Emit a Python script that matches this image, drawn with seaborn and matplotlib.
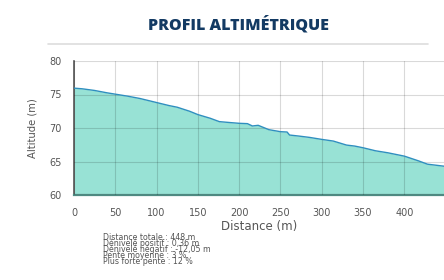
import matplotlib
matplotlib.use("Agg")
import matplotlib.pyplot as plt
import seaborn as sns
import pandas as pd

distance = [0, 10, 25, 40, 50, 65, 80, 100, 115, 125, 140, 150, 165, 176, 190, 200,
            210, 216, 223, 236, 250, 258, 261, 272, 285, 300, 314, 330, 340, 350,
            365, 380, 400, 417, 428, 448]
altitude = [75.95, 75.85, 75.6, 75.25, 75.05, 74.75, 74.4, 73.8, 73.35, 73.1, 72.5,
            72.0, 71.45, 70.95, 70.8, 70.7, 70.65, 70.3, 70.4, 69.75, 69.45, 69.4,
            68.95, 68.8, 68.6, 68.3, 68.05, 67.45, 67.3, 67.05, 66.6, 66.3, 65.8,
            65.1, 64.6, 64.3]
x_ticks = [0, 50, 100, 150, 200, 250, 300, 350, 400]
y_ticks = [60, 65, 70, 75, 80]
title = "PROFIL ALTIMÉTRIQUE"
stats = ["Distance totale : 448 m",
         "Dénivelé positif : 0,36 m",
         "Dénivelé négatif : -12,05 m",
         "Pente moyenne : 3 %",
         "Plus forte pente : 12 %"]

df = pd.DataFrame({"Distance (m)": distance, "Altitude (m)": altitude})

sns.set_style("white")
plt.rcParams["font.family"] = ["DejaVu Sans"]

fig = plt.figure(figsize=(4.44, 2.80), dpi=100)
ax = fig.add_axes([74 / 444, 1 - 195 / 280, 1 - 74 / 444, (195 - 61) / 280])

ax.fill_between(df["Distance (m)"], df["Altitude (m)"], 60, color="#98e2d5", zorder=1, lw=0)
sns.lineplot(data=df, x="Distance (m)", y="Altitude (m)", ax=ax, color="#2f8fbf",
             lw=1.0, zorder=3)

ax.set_xlim(0, 448)
ax.set_ylim(60, 80)
ax.set_xticks(x_ticks)
ax.set_yticks(y_ticks)
ax.grid(True, color="black", alpha=0.15, lw=0.8, zorder=2)
ax.set_axisbelow(False)

for s in ["top", "right"]:
    ax.spines[s].set_visible(False)
ax.spines["left"].set_color("#555555")
ax.spines["left"].set_linewidth(1.2)
ax.spines["bottom"].set_color("#4f8a82")
ax.spines["bottom"].set_linewidth(1.6)
ax.tick_params(axis="both", length=5, width=1, color="#444444", labelsize=7,
               labelcolor="#555555", direction="out", pad=4)
ax.set_xlabel("Distance (m)", fontsize=8.5, color="#555555", labelpad=2)
ax.set_ylabel("Altitude (m)", fontsize=7.2, color="#555555", labelpad=8)

fig.text(238 / 444, 1 - 25 / 280, title, ha="center", va="center", fontsize=11.5,
         fontweight="heavy", color="#133a63", family=["Open Sans", "DejaVu Sans"])
fig.add_artist(plt.Line2D([48 / 444, 428 / 444], [1 - 44 / 280, 1 - 44 / 280],
                          color="#dddddd", lw=1.2))

fig.text(103 / 444, 1 - 233.5 / 280, "\n".join(stats), ha="left", va="top",
         fontsize=5.7, color="#555555", linespacing=0.53)

fig.savefig("out.png", dpi=100)
